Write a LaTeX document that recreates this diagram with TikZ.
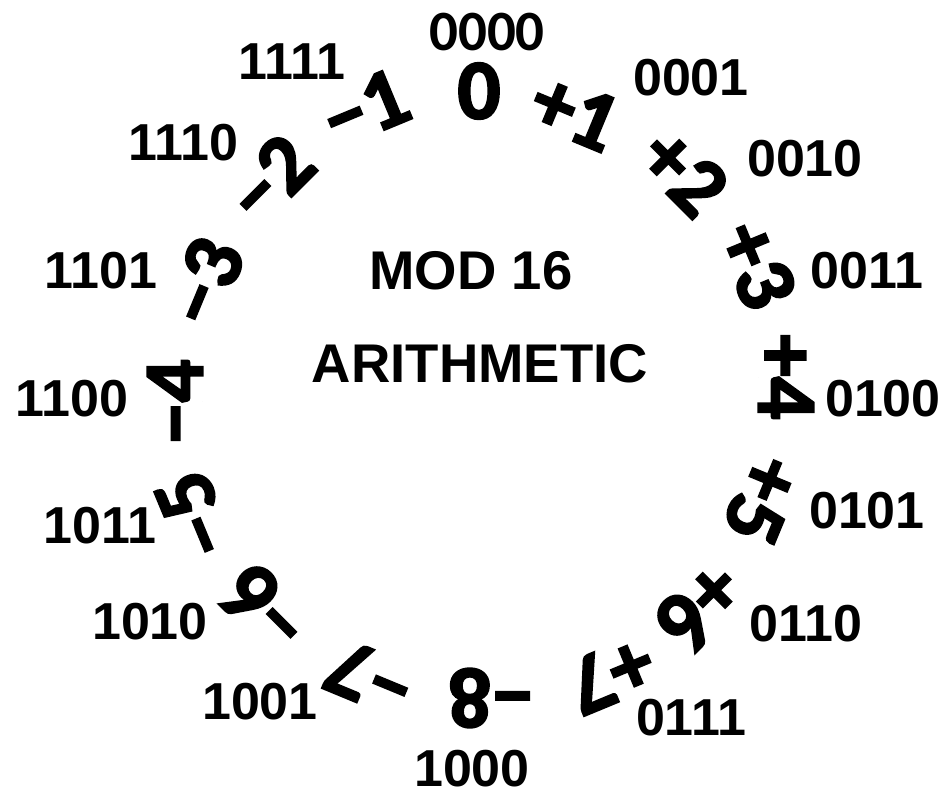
\documentclass[tikz,border=0pt]{standalone}
\usepackage{fontspec}
\setmainfont{Liberation Sans}
\newfontfamily\ringfont[FakeBold=2.5]{Carlito Bold}
\newfontfamily\calfont{Carlito Bold}
\tikzset{
  ringnum/.style={font=\ringfont\fontsize{85}{85}\selectfont, inner sep=0pt},
  bincode/.style={font=\bfseries\fontsize{52}{52}\selectfont, inner sep=0pt},
  topcode/.style={font=\calfont\fontsize{57}{57}\selectfont, inner sep=0pt},
  caption/.style={font=\bfseries\fontsize{54.5}{54.5}\selectfont, inner sep=0pt}
}
\begin{document}
\begin{tikzpicture}[x=1pt,y=-1pt]
\useasboundingbox (0,0) rectangle (949,790);

% signed values around the ring, each turned to face outward
\node[ringnum]                 (n0) at (479,91)  {0};
\node[ringnum, rotate=-22.5]   (p1) at (575,112) {+1};
\node[ringnum, rotate=-45]     (p2) at (684,172) {+2};
\node[ringnum, rotate=-67.5]   (p3) at (757,265) {+3};
\node[ringnum, rotate=-90]     (p4) at (786,377) {+4};
\node[ringnum, rotate=-112.5]  (p5) at (762,500) {+5};
\node[ringnum, rotate=-135]    (p6) at (700,607) {+6};
\node[ringnum, rotate=-157.5]  (p7) at (611,675) {+7};
\node[ringnum, rotate=180]     (m8) at (491,698) {−8};
\node[ringnum, rotate=157.5]   (m7) at (370,678) {−7};
\node[ringnum, rotate=135]     (m6) at (265,609) {−6};
\node[ringnum, rotate=112.5]   (m5) at (194,515) {−5};
\node[ringnum, rotate=90]      (m4) at (175,402) {−4};
\node[ringnum, rotate=67.5]    (m3) at (205,282) {−3};
\node[ringnum, rotate=45]      (m2) at (270,179) {−2};
\node[ringnum, rotate=22.5]    (m1) at (365,108) {−1};

% four-bit codes outside the ring
\node[topcode] (b0000) at (487,32)  {0000};
\node[bincode] (b0001) at (691,78)  {0001};
\node[bincode] (b0010) at (805,159) {0010};
\node[bincode] (b0011) at (867,271) {0011};
\node[bincode] (b0100) at (883,399) {0100};
\node[bincode] (b0101) at (867,511) {0101};
\node[bincode] (b0110) at (806,624) {0110};
\node[bincode] (b0111) at (691,718) {0111};
\node[bincode] (b1000) at (472,769) {1000};
\node[bincode] (b1001) at (260,702) {1001};
\node[bincode] (b1010) at (150,622) {1010};
\node[bincode] (b1011) at (100,526) {1011};
\node[bincode] (b1100) at (72,399)  {1100};
\node[bincode] (b1101) at (101,271) {1101};
\node[bincode] (b1110) at (183,143) {1110};
\node[bincode] (b1111) at (292,62)  {1111};

% title in the middle
\node[caption] (mod)   at (471,271) {MOD 16};
\node[caption] (arith) at (480,364) {ARITHMETIC};
\end{tikzpicture}
\end{document}
